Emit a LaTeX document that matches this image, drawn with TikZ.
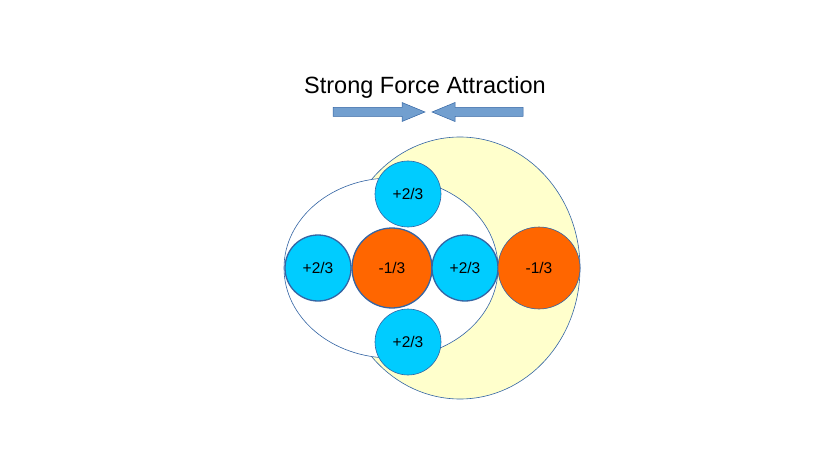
\documentclass[tikz,border=0pt]{standalone}
\usepackage{fontspec}
\setmainfont{Liberation Sans}
\usetikzlibrary{shapes.geometric}
\definecolor{quarkblue}{HTML}{00CCFF}
\definecolor{quarkorange}{HTML}{FF6600}
\definecolor{edgeblue}{HTML}{3465A4}
\definecolor{halo}{HTML}{FFFFCC}
\definecolor{arrowfill}{HTML}{729FCF}
\begin{document}
\begin{tikzpicture}[x=1pt,y=-1pt,
  quark/.style={circle,draw=edgeblue,inner sep=0pt,font=\fontsize{15.5}{17}\selectfont},
  upq/.style={quark,fill=quarkblue,minimum size=66pt},
  downq/.style={quark,fill=quarkorange,minimum size=81pt},
  thickedge/.style={line width=1.3pt},
  thinedge/.style={line width=0.6pt},
  shell/.style={ellipse,draw=edgeblue,line width=0.6pt,inner sep=0pt},
  bigarrow/.style={fill=arrowfill,draw=edgeblue,line width=0.5pt}]
\useasboundingbox (0,0) rectangle (832,473);
\node[font=\fontsize{23.5}{26}\selectfont] (title) at (425,87) {Strong Force Attraction};
\coordinate (la) at (333,112);
\coordinate (ra) at (523,112);
\draw[bigarrow] (la) ++(0,-4.5) -- ++(69,0) -- ++(0,-5) -- ++(23,9.5) -- ++(-23,9.5) -- ++(0,-5) -- ++(-69,0) -- cycle;
\draw[bigarrow] (ra) ++(0,-4.5) -- ++(-68,0) -- ++(0,-5) -- ++(-23,9.5) -- ++(23,9.5) -- ++(0,-5) -- ++(68,0) -- cycle;
\node[shell,fill=halo,minimum width=240pt,minimum height=262pt] (halo) at (460,268) {};
\node[shell,fill=white,minimum width=214pt,minimum height=180pt] (nucleus) at (391,268) {};
\node[upq,thinedge] (top) at (408,194) {+2/3};
\node[upq,thinedge] (bottom) at (408,342) {+2/3};
\node[upq,thickedge] (left) at (318,268) {+2/3};
\node[downq,thickedge,minimum size=80pt,text width=50pt,align=center] (center) at (392,268) {-1/3\hspace*{8pt}};
\node[upq,thickedge] (right) at (465,268) {+2/3};
\node[downq,thinedge,minimum size=82pt] (outer) at (539,268) {-1/3};
\end{tikzpicture}
\end{document}
